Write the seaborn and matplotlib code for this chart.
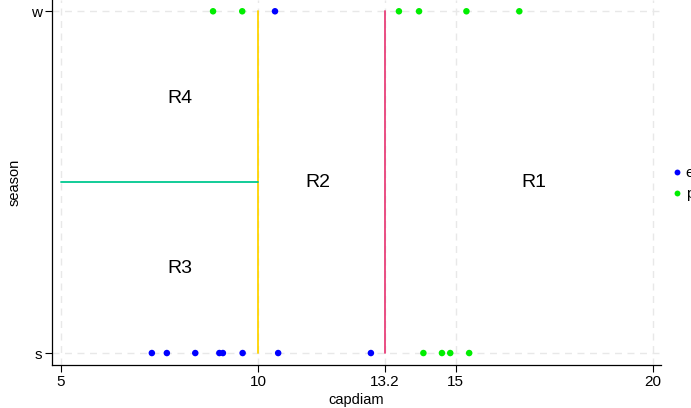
import matplotlib
matplotlib.use("Agg")
import matplotlib.pyplot as plt
import seaborn as sns
import pandas as pd
import numpy as np

sns.set_style("white")
plt.rcParams['font.family'] = ['Liberation Sans', 'DejaVu Sans']
plt.rcParams['text.color'] = 'black'
plt.rcParams['axes.labelcolor'] = 'black'
plt.rcParams['xtick.color'] = 'black'
plt.rcParams['ytick.color'] = 'black'

# data
s_e = [7.30, 7.68, 8.40, 9.01, 9.10, 9.60, 10.50, 12.85]
s_p = [14.18, 14.65, 14.86, 15.34]
w_e = [10.42]
w_p = [8.85, 9.59, 13.56, 14.07, 15.27, 16.61]
xticks = [5, 10, 13.2, 15, 20]
xticklabels = ["5", "10", "13.2", "15", "20"]
split_x1 = 10
split_x2 = 13.2
regions = ["R1", "R2", "R3", "R4"]
region_x = [16.99, 11.51, 8.02, 8.02]
region_y = [0.5, 0.5, 0.246, 0.746]

rows = []
for v in s_e: rows.append((v, 0, "e"))
for v in s_p: rows.append((v, 0, "p"))
for v in w_e: rows.append((v, 1, "e"))
for v in w_p: rows.append((v, 1, "p"))
df = pd.DataFrame(rows, columns=["capdiam", "season", "class"])

fig = plt.figure(figsize=(6.91, 4.08), dpi=100)
ax = fig.add_axes([52/691, 43/408, (661-52)/691, 1 - 43/408])

# grid
for xt in xticks:
    ax.axvline(xt, color="#e8e8e8", lw=1, ls=(0, (5, 4)), zorder=0)
for yt in [0, 1]:
    ax.axhline(yt, color="#e8e8e8", lw=1, ls=(0, (5, 4)), zorder=0)

ax.plot([split_x1, split_x1], [0, 1], color="#FFD400", lw=1.3, zorder=2)
ax.plot([split_x2, split_x2], [0, 1], color="#E8407A", lw=1.3, zorder=2)
ax.plot([5, split_x1], [0.5, 0.5], color="#00C890", lw=1.3, zorder=2)

sns.scatterplot(data=df, x="capdiam", y="season", hue="class",
                palette={"e": "#0000FF", "p": "#00EE00"}, hue_order=["e", "p"],
                s=22, edgecolor="none", ax=ax, zorder=3)

for r, rx, ry in zip(regions, region_x, region_y):
    ax.text(rx, ry, r, fontsize=14, ha="center", va="center", color="black")

ax.set_xlim(4.77, 20.2)
ax.set_ylim(-0.035, 1.033)
ax.set_xticks(xticks)
ax.set_xticklabels(xticklabels, fontsize=11)
ax.set_yticks([0, 1])
ax.set_yticklabels(["s", "w"], fontsize=11)
ax.tick_params(axis="both", direction="out", length=5, width=0.8, color="black", pad=2)
ax.xaxis.set_ticks_position("bottom")
ax.yaxis.set_ticks_position("left")
ax.set_xlabel("capdiam", fontsize=10.5, labelpad=3)
ax.set_ylabel("season", fontsize=10.5, labelpad=7)
for sp in ["top", "right"]:
    ax.spines[sp].set_visible(False)
for sp in ["left", "bottom"]:
    ax.spines[sp].set_color("black")
    ax.spines[sp].set_linewidth(0.9)

leg = ax.legend(loc="center left", bbox_to_anchor=(0.998, 0.497), frameon=False,
                title=None, fontsize=11, handlelength=0.8, handletextpad=0.2,
                borderaxespad=0.3, labelspacing=0.45, markerscale=0.9)

fig.savefig("out.png", dpi=100)
